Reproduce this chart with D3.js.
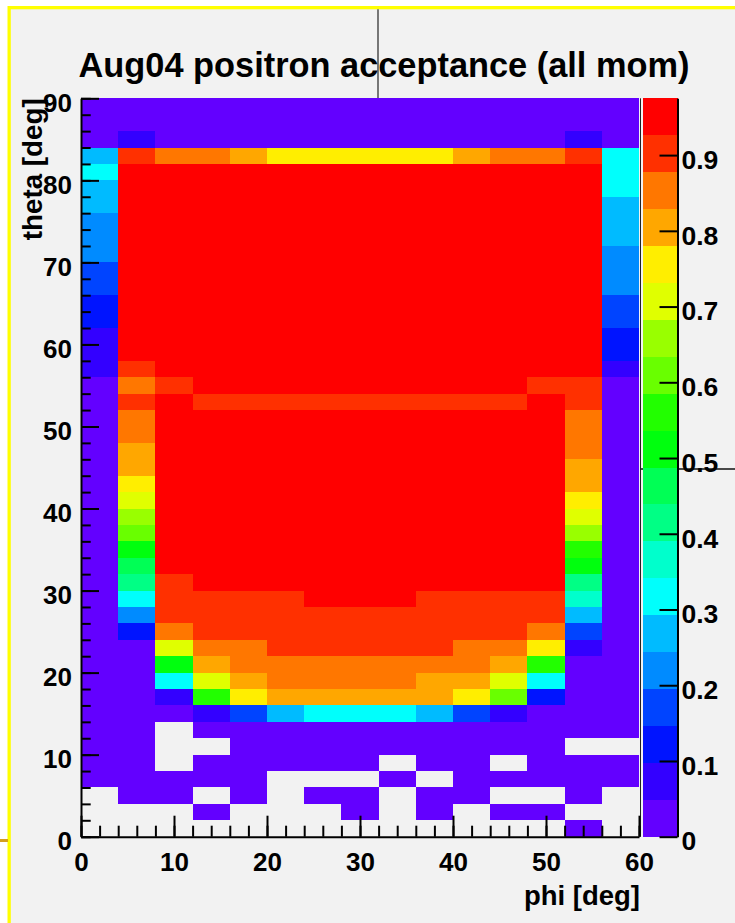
<!DOCTYPE html>
<html><head><meta charset="utf-8">
<script src="https://cdn.jsdelivr.net/npm/d3@7"></script>
<style>html,body{margin:0;padding:0;background:#fff;} svg{display:block;}</style>
</head><body>
<svg id="chart" width="735" height="923"></svg>
<script>
// ---------------- data ----------------
const chartTitle = "Aug04 positron acceptance (all mom)";
const xTitle = "phi [deg]";
const yTitle = "theta [deg]";
const phiEdges = [0,4,8,12,16,20,24,28,32,36,40,44,48,52,56,60];
const thetaEdges = [0,2,4,6,8,10,12,14,16,18,20,22,24,26,28,30,32,34,36,38,40,42,44,46,48,50,52,54,56,58,60,62,64,66,68,70,72,74,76,78,80,82,84,86,88,90];
const xMajorTicks = [0,10,20,30,40,50,60];
const yMajorTicks = [0,10,20,30,40,50,60,70,80,90];
const zTicks = [0,0.1,0.2,0.3,0.4,0.5,0.6,0.7,0.8,0.9];
const zMax = 0.975;
const nLevels = 20;
const _ = null; // empty bin
// acceptance[theta bin][phi bin], theta bin 0 = 0-2 deg
const acceptance = [
 [_,_,_,_,_,_,_,_,_,_,_,_,_,.02,_],
 [_,_,_,.02,_,_,_,.02,_,.02,_,.02,.02,_,_],
 [_,.02,.02,_,.02,_,.02,.02,_,.02,.02,_,_,.02,_],
 [.02,.02,.02,.02,.02,_,_,_,.02,_,.02,.02,.02,.02,.02],
 [.02,.02,_,.02,.02,.02,.02,.02,_,.02,.02,_,.02,.02,.02],
 [.02,.02,_,_,.02,.02,.02,.02,.02,.02,.02,.02,.02,_,_],
 [.02,.02,_,.02,.02,.02,.02,.02,.02,.02,.02,.02,.02,.02,.02],
 [.02,.02,.02,.07,.17,.27,.32,.32,.32,.27,.17,.07,.02,.02,.02],
 [.02,.02,.07,.56,.76,.80,.80,.80,.80,.80,.76,.61,.12,.02,.02],
 [.02,.02,.32,.71,.80,.85,.85,.85,.85,.80,.80,.71,.32,.02,.02],
 [.02,.02,.51,.80,.85,.85,.85,.85,.85,.85,.85,.80,.56,.02,.02],
 [.02,.02,.71,.85,.85,.90,.90,.90,.90,.90,.85,.85,.76,.07,.02],
 [.02,.12,.85,.90,.90,.90,.90,.90,.90,.90,.90,.90,.85,.17,.02],
 [.02,.22,.90,.90,.90,.90,.90,.90,.90,.90,.90,.90,.90,.27,.02],
 [.02,.32,.90,.90,.90,.90,.95,.95,.95,.90,.90,.90,.90,.37,.02],
 [.02,.41,.90,.95,.95,.95,.95,.95,.95,.95,.95,.95,.95,.41,.02],
 [.02,.46,.95,.95,.95,.95,.95,.95,.95,.95,.95,.95,.95,.51,.02],
 [.02,.51,.95,.95,.95,.95,.95,.95,.95,.95,.95,.95,.95,.56,.02],
 [.02,.61,.95,.95,.95,.95,.95,.95,.95,.95,.95,.95,.95,.66,.02],
 [.02,.66,.95,.95,.95,.95,.95,.95,.95,.95,.95,.95,.95,.71,.02],
 [.02,.71,.95,.95,.95,.95,.95,.95,.95,.95,.95,.95,.95,.76,.02],
 [.02,.76,.95,.95,.95,.95,.95,.95,.95,.95,.95,.95,.95,.80,.02],
 [.02,.80,.95,.95,.95,.95,.95,.95,.95,.95,.95,.95,.95,.80,.02],
 [.02,.80,.95,.95,.95,.95,.95,.95,.95,.95,.95,.95,.95,.85,.02],
 [.02,.85,.95,.95,.95,.95,.95,.95,.95,.95,.95,.95,.95,.85,.02],
 [.02,.85,.95,.95,.95,.95,.95,.95,.95,.95,.95,.95,.95,.85,.02],
 [.02,.90,.95,.90,.90,.90,.90,.90,.90,.90,.90,.90,.95,.90,.02],
 [.02,.85,.90,.95,.95,.95,.95,.95,.95,.95,.95,.95,.90,.90,.02],
 [.07,.90,.95,.95,.95,.95,.95,.95,.95,.95,.95,.95,.95,.95,.07],
 [.07,.95,.95,.95,.95,.95,.95,.95,.95,.95,.95,.95,.95,.95,.12],
 [.07,.95,.95,.95,.95,.95,.95,.95,.95,.95,.95,.95,.95,.95,.12],
 [.12,.95,.95,.95,.95,.95,.95,.95,.95,.95,.95,.95,.95,.95,.17],
 [.12,.95,.95,.95,.95,.95,.95,.95,.95,.95,.95,.95,.95,.95,.17],
 [.17,.95,.95,.95,.95,.95,.95,.95,.95,.95,.95,.95,.95,.95,.22],
 [.17,.95,.95,.95,.95,.95,.95,.95,.95,.95,.95,.95,.95,.95,.22],
 [.22,.95,.95,.95,.95,.95,.95,.95,.95,.95,.95,.95,.95,.95,.22],
 [.22,.95,.95,.95,.95,.95,.95,.95,.95,.95,.95,.95,.95,.95,.27],
 [.22,.95,.95,.95,.95,.95,.95,.95,.95,.95,.95,.95,.95,.95,.27],
 [.27,.95,.95,.95,.95,.95,.95,.95,.95,.95,.95,.95,.95,.95,.27],
 [.27,.95,.95,.95,.95,.95,.95,.95,.95,.95,.95,.95,.95,.95,.32],
 [.32,.95,.95,.95,.95,.95,.95,.95,.95,.95,.95,.95,.95,.95,.32],
 [.27,.90,.85,.85,.80,.76,.76,.76,.76,.76,.80,.85,.85,.90,.32],
 [.02,.07,.02,.02,.02,.02,.02,.02,.02,.02,.02,.02,.02,.07,.02],
 [.02,.02,.02,.02,.02,.02,.02,.02,.02,.02,.02,.02,.02,.02,.02],
 [.02,.02,.02,.02,.02,.02,.02,.02,.02,.02,.02,.02,.02,.02,.02]
];

// ---------------- layout ----------------
const W = 735, H = 923;
const plot = {left: 81, right: 639, top: 98.3, bottom: 836.7};
const bar = {left: 643, right: 677.5};
const FONT = "'Liberation Sans', Arial, Helvetica, sans-serif";

const svg = d3.select('#chart');

// canvas background and frame artifacts
svg.append('rect').attr('x',0).attr('y',0).attr('width',W).attr('height',H).attr('fill','#ffffff');
svg.append('rect').attr('x',8).attr('y',6).attr('width',W-8).attr('height',H-6).attr('fill','#f2f2f2');
svg.append('rect').attr('x',8).attr('y',6).attr('width',W-8).attr('height',3.3).attr('fill','#ffff00');
svg.append('rect').attr('x',7.5).attr('y',6).attr('width',3.3).attr('height',H-6).attr('fill','#ffff00');
svg.append('rect').attr('x',0).attr('y',839).attr('width',8).attr('height',3).attr('fill','#d4a020');
svg.append('line').attr('x1',378).attr('x2',378).attr('y1',9.3).attr('y2',plot.top)
  .attr('stroke','#333').attr('stroke-width',1.3);
svg.append('line').attr('x1',640).attr('x2',W).attr('y1',469).attr('y2',469)
  .attr('stroke','#111').attr('stroke-width',1.6);

// scales
const x = d3.scaleLinear().domain([0,60]).range([plot.left, plot.right]);
const y = d3.scaleLinear().domain([0,90]).range([plot.bottom, plot.top]);
const palette = d3.range(nLevels).map(k => {
  const idx = Math.floor((k + 0.99) * 50 / nLevels);
  const hue = 280 - (idx + 1) * 5.6;
  return d3.hsl(hue, 1, 0.5).formatHex();
});
const color = d3.scaleQuantize().domain([0, zMax]).range(palette);
const z = d3.scaleLinear().domain([0, zMax]).range([plot.bottom, plot.top]);
const rx = v => Math.round(x(v));
const ry = v => Math.round(y(v));
const rz = v => Math.round(z(v));

// cells
const cells = [];
acceptance.forEach((row, r) => row.forEach((v, c) => {
  if (v !== null) cells.push({r, c, v});
}));
svg.append('g').attr('shape-rendering','crispEdges')
  .selectAll('rect').data(cells).join('rect')
  .attr('x', d => rx(phiEdges[d.c]))
  .attr('y', d => ry(thetaEdges[d.r + 1]))
  .attr('width', d => rx(phiEdges[d.c + 1]) - rx(phiEdges[d.c]))
  .attr('height', d => ry(thetaEdges[d.r]) - ry(thetaEdges[d.r + 1]))
  .attr('fill', d => color(d.v));

// frame right edge
svg.append('line').attr('x1',640.5).attr('x2',640.5).attr('y1',plot.top).attr('y2',plot.bottom)
  .attr('stroke','#222').attr('stroke-width',1);

// color bar
const bands = d3.range(nLevels).map(k => ({lo: k * zMax / nLevels, hi: (k + 1) * zMax / nLevels}));
svg.append('g').attr('shape-rendering','crispEdges')
  .selectAll('rect').data(bands).join('rect')
  .attr('x', bar.left).attr('width', Math.round(bar.right - bar.left))
  .attr('y', d => rz(d.hi)).attr('height', d => rz(d.lo) - rz(d.hi))
  .attr('fill', d => color((d.lo + d.hi) / 2));

function styleAxis(g, size) {
  g.selectAll('.tick line').attr('stroke','#000').attr('stroke-width',2);
  g.selectAll('.domain').attr('stroke','#000').attr('stroke-width',2);
  g.selectAll('text').attr('font-family', FONT).attr('font-weight','bold')
    .attr('font-size', size).attr('fill','#000');
  g.attr('font-family', null).attr('font-size', null);
}

// z axis
const zAxis = d3.axisRight(z).tickValues(zTicks).tickSize(-18).tickSizeOuter(0).tickPadding(4)
  .tickFormat(d => d === 0 ? '0' : d3.format('.1f')(d));
const gz = svg.append('g').attr('transform', `translate(${bar.right},0)`).call(zAxis);
styleAxis(gz, 26.5);
gz.selectAll('text').attr('dy','0.5em');

// x axis minor + major
const gxMinor = svg.append('g').attr('transform', `translate(0,${plot.bottom})`)
  .call(d3.axisBottom(x).tickValues(d3.range(0, 61, 2)).tickSize(-11).tickFormat(''));
gxMinor.select('.domain').remove();
styleAxis(gxMinor, 26);
const gx = svg.append('g').attr('transform', `translate(0,${plot.bottom})`)
  .call(d3.axisBottom(x).tickValues(xMajorTicks).tickSize(-21).tickSizeOuter(0).tickPadding(16).tickFormat(d3.format('d')));
styleAxis(gx, 26);

// y axis minor + major
const gyMinor = svg.append('g').attr('transform', `translate(${plot.left},0)`)
  .call(d3.axisLeft(y).tickValues(d3.range(0, 91, 2)).tickSize(-9.7).tickFormat(''));
gyMinor.select('.domain').remove();
styleAxis(gyMinor, 26);
const gy = svg.append('g').attr('transform', `translate(${plot.left},0)`)
  .call(d3.axisLeft(y).tickValues(yMajorTicks).tickSize(-18).tickSizeOuter(0).tickPadding(9).tickFormat(d3.format('d')));
styleAxis(gy, 26);
gy.selectAll('text').attr('dy','0.5em');

// titles
function fitText(sel, width) {
  const len = sel.node().getComputedTextLength();
  const fs = parseFloat(sel.attr('font-size'));
  sel.attr('font-size', fs * width / len);
}
const t = svg.append('text').attr('x', 384).attr('y', 76.5).attr('text-anchor','middle')
  .attr('font-family', FONT).attr('font-weight','bold').attr('font-size', 34).attr('fill','#000')
  .text(chartTitle);
fitText(t, 611);

const xt = svg.append('text').attr('x', 640).attr('y', 905).attr('text-anchor','end')
  .attr('font-family', FONT).attr('font-weight','bold').attr('font-size', 27).attr('fill','#000')
  .text(xTitle);
fitText(xt, 116);

const yt = svg.append('text').attr('transform', `translate(42,${plot.top}) rotate(-90)`).attr('text-anchor','end')
  .attr('font-family', FONT).attr('font-weight','bold').attr('font-size', 27).attr('fill','#000')
  .text(yTitle);
fitText(yt, 142);
</script>
</body></html>
